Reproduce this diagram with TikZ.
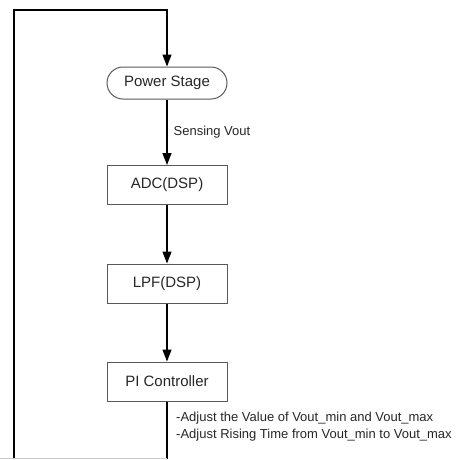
\documentclass[tikz,border=0pt]{standalone}
\usepackage{fontspec}
\setmainfont{Liberation Sans}
\usetikzlibrary{arrows.meta}
\begin{document}
\begin{tikzpicture}[x=1pt,y=-1pt,
  flow/.style={line width=1.3pt, draw=black},
  arr/.style={flow, -{Triangle[length=12pt,width=9pt]}},
  block/.style={draw=black!65, line width=1pt, minimum width=120pt, minimum height=39pt, inner sep=0pt, font=\fontsize{15}{17}\selectfont, text=black!85},
  term/.style={block, minimum height=32pt, rounded corners=16pt},
  note/.style={font=\fontsize{13}{17}\selectfont, text=black!85, inner sep=0pt}
]
\useasboundingbox (0,0) rectangle (471,459);
\node[term]  (ps)  at (167,83)    {Power Stage};
\node[block] (adc) at (167,185)   {ADC(DSP)};
\node[block] (lpf) at (167,283.5) {LPF(DSP)};
\node[block] (pi)  at (167,381.5) {PI Controller};
\coordinate (lb) at (14,459);
\coordinate (lt) at (14,10);
\coordinate (rt) at (167,10);
\coordinate (pib) at (167,459);
\draw[arr] (lb) -- (lt) -- (rt) -- (ps.north);
\draw[arr] (ps) -- node[note, anchor=west, xshift=6pt, pos=0.5] (sv) {Sensing Vout} (adc);
\draw[arr] (adc) -- (lpf);
\draw[arr] (lpf) -- (pi);
\draw[flow] (pi) -- (pib);
\node[note, anchor=north west, align=left] (txt) at (176,412) {-Adjust the Value of Vout\_min and Vout\_max\\-Adjust Rising Time from Vout\_min to Vout\_max};
\draw[black!20, line width=0.8pt] (0,458.3) -- (167,458.3);
\end{tikzpicture}
\end{document}
